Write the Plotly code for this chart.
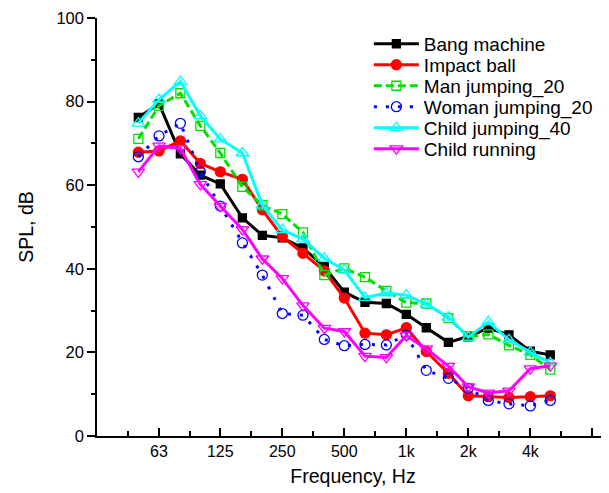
import plotly.graph_objects as go

freqs = [50, 63, 80, 100, 125, 160, 200, 250, 315, 400, 500, 630, 800,
         1000, 1250, 1600, 2000, 2500, 3150, 4000, 5000]

bang_machine = [76.2, 79.5, 67.5, 62.4, 60.3, 52.2, 48.0, 47.4, 45.0, 40.5, 34.4,
                32.0, 31.7, 29.1, 25.9, 22.4, 23.8, 25.8, 24.2, 20.3, 19.4]
impact_ball = [67.9, 68.2, 70.6, 65.2, 63.2, 61.4, 54.1, 47.7, 43.7, 39.5, 33.0,
               24.6, 24.2, 25.9, 20.2, 15.0, 9.6, 9.4, 9.2, 9.4, 9.6]
man_jumping_20 = [71.1, 79.0, 82.0, 74.2, 67.7, 59.6, 55.2, 53.1, 48.7, 38.5, 40.1,
                  38.0, 34.7, 31.9, 31.7, 28.2, 23.8, 24.3, 21.7, 19.4, 15.9]
woman_jumping_20 = [66.8, 71.8, 74.8, 63.2, 55.0, 46.2, 38.5, 29.3, 28.9, 23.1, 21.6,
                    21.9, 21.8, 24.2, 15.7, 13.8, 11.4, 8.5, 7.7, 7.2, 8.5]
child_jumping_40 = [74.8, 80.5, 84.8, 76.6, 71.0, 67.7, 55.2, 49.3, 47.1, 42.5, 39.7,
                    33.1, 34.2, 33.7, 31.5, 28.4, 23.6, 27.3, 23.0, 20.0, 17.5]
child_running = [63.2, 69.4, 68.8, 60.2, 55.0, 49.4, 42.4, 37.7, 31.2, 25.8, 25.0,
                 19.1, 18.8, 24.0, 20.9, 16.7, 11.8, 10.3, 10.8, 16.1, 16.8]

tick_vals = [63, 125, 250, 500, 1000, 2000, 4000, 8000]
tick_text = ["63", "125", "250", "500", "1k", "2k", "4k", ""]
minor_vals = [44.5, 89, 177, 354, 707, 1414, 2828, 5657]

series = [
    ("Bang machine", bang_machine, "black", "square", "black", "solid", 8),
    ("Impact ball", impact_ball, "red", "circle", "red", "solid", 10),
    ("Man jumping_20", man_jumping_20, "#00e000", "square-open", "#00e000", "8px,4px", 9),
    ("Woman jumping_20", woman_jumping_20, "blue", "circle-open", "blue", "3px,9px", 10),
    ("Child jumping_40", child_jumping_40, "#00ffff", "triangle-up-open", "#00ffff", "solid", 11),
    ("Child running", child_running, "#ff00ff", "triangle-down-open", "#ff00ff", "solid", 11),
]

font = "Arial, Liberation Sans, sans-serif"
legend_names = ["legend", "legend2", "legend3", "legend4", "legend5", "legend6"]

fig = go.Figure()
legend_layout = {}
for i, (name, vals, color, symbol, mcolor, dash, msize) in enumerate(series):
    lg = legend_names[i]
    fig.add_trace(go.Scatter(
        x=freqs, y=vals, name=name, mode="lines+markers", legend=lg,
        line=dict(color=color, width=3, dash=dash),
        marker=dict(symbol=symbol, size=msize, color=mcolor,
                    line=dict(color=mcolor, width=1.3)),
    ))
    legend_layout[lg] = dict(
        x=0.531, y=0.938 - i * 0.0502, xanchor="left", yanchor="middle",
        bgcolor="rgba(0,0,0,0)", borderwidth=0, itemwidth=45,
        font=dict(size=19, family=font),
    )

fig.update_layout(
    width=601, height=485,
    margin=dict(l=89, r=0, t=10, b=57),
    paper_bgcolor="white", plot_bgcolor="white",
    font=dict(family=font, size=16, color="black"),
    showlegend=True,
    xaxis=dict(
        type="log", range=[1.4983, 3.984], automargin=False,
        tickmode="array", tickvals=tick_vals, ticktext=tick_text,
        ticks="inside", ticklen=8, tickwidth=1.5, tickcolor="black",
        showline=True, linecolor="black", linewidth=1.5,
        showgrid=False, zeroline=False,
        minor=dict(tickmode="array", tickvals=minor_vals, ticks="inside",
                   ticklen=5, tickwidth=1.5, tickcolor="black", showgrid=False),
        tickfont=dict(size=16),
        title=dict(text="Frequency, Hz", font=dict(size=19.5), standoff=10),
    ),
    yaxis=dict(
        range=[0, 100], tickmode="array", tickvals=[0, 20, 40, 60, 80, 100],
        automargin=False,
        ticks="outside", ticklen=8, tickwidth=1.5, tickcolor="black",
        showline=True, linecolor="black", linewidth=1.5,
        showgrid=False, zeroline=False,
        minor=dict(tickmode="array", tickvals=[10, 30, 50, 70, 90], ticks="outside",
                   ticklen=4, tickwidth=1.5, tickcolor="black", showgrid=False),
        tickfont=dict(size=16.5),
        title=dict(text="SPL, dB", font=dict(size=19.5), standoff=18),
    ),
    **legend_layout,
)

fig.write_html("out.html")
